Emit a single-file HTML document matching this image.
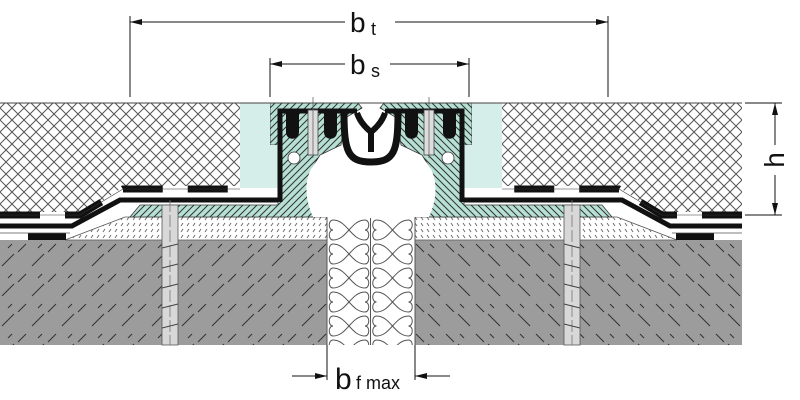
<!DOCTYPE html>
<html><head><meta charset="utf-8"><style>
html,body{margin:0;padding:0;background:#fff;}
svg{display:block;}
text{font-family:"Liberation Sans",sans-serif;fill:#111;}
</style></head><body>
<svg width="800" height="400" viewBox="0 0 800 400" xmlns="http://www.w3.org/2000/svg">
<defs>
<pattern id="xh" width="12" height="12" patternUnits="userSpaceOnUse">
<rect width="12" height="12" fill="#fff"/>
<path d="M0,0L12,12M12,0L0,12" stroke="#555" stroke-width="1"/>
</pattern>
<pattern id="conc" width="30" height="30" patternUnits="userSpaceOnUse">
<rect width="30" height="30" fill="#9c9c9c"/>
<path d="M2,26L14,14M18,12L26,4M8,8L12,4" stroke="#333" stroke-width="1"/>
</pattern>
<pattern id="mort" width="6" height="6" patternUnits="userSpaceOnUse">
<rect width="6" height="6" fill="#fff"/>
<path d="M1,4L3,1" stroke="#666" stroke-width="0.9"/>
</pattern>
<pattern id="cy" width="7" height="7" patternUnits="userSpaceOnUse">
<rect width="7" height="7" fill="#b5e0d3"/>
<path d="M0,7L7,0M-1,1L1,-1M6,8L8,6" stroke="#333" stroke-width="1"/>
</pattern>
<pattern id="ins" x="327" y="218" width="43.5" height="24" patternUnits="userSpaceOnUse">
<rect width="43.5" height="24" fill="#fff"/>
<path d="M6,2C20,2 24,22 38,22M6,22C20,22 24,2 38,2M6,2C1,2 1,12 6,12M38,12C43,12 43,22 38,22M6,12C1,12 1,22 6,22M38,2C43,2 43,12 38,12" fill="none" stroke="#555" stroke-width="1"/>
</pattern>
<g id="halfA">
 <rect x="0" y="240" width="327" height="105" fill="url(#conc)"/>
 <polygon points="65,240 125,217 327,217 327,240" fill="url(#mort)" stroke="#555" stroke-width="0.8"/>
 <polygon points="0,103 240,103 240,186 125,186 85,212 0,212" fill="url(#xh)"/>
 <polyline points="0,215 80,215 123,189 240,189" fill="none" stroke="#111" stroke-width="7" stroke-dasharray="40,25"/>
 <polyline points="0,215 80,215 123,189 240,189" fill="none" stroke="#333" stroke-width="0.6"/>
 <polyline points="0,226 72,226 120,200 280,200" fill="none" stroke="#111" stroke-width="5"/>
 <rect x="28" y="233" width="38" height="7" fill="#111"/>
 <line x1="0" y1="233" x2="70" y2="233" stroke="#555" stroke-width="0.8"/>
 <polygon points="270,103 358,103 362,108 345,118 341,145 320,155 312,168 310,195 313,205 313,217 130,217 140,205 278,205 278,145 270,145" fill="url(#cy)" stroke="#333" stroke-width="0.8"/>
 <rect x="240" y="103" width="30" height="85" fill="#d6eeea"/>
 <rect x="270" y="145" width="8" height="43" fill="#d6eeea"/>
 <rect x="162" y="205" width="16" height="140" fill="#d8d8d8" stroke="#555" stroke-width="0.8"/>
 <line x1="170" y1="200" x2="170" y2="345" stroke="#777" stroke-width="0.8" stroke-dasharray="12,3"/>
 <path d="M162,248L178,244M162,268L178,264M162,288L178,284M162,308L178,304M162,328L178,324" stroke="#444" stroke-width="1"/>
</g>
<g id="halfB">
 <path d="M280,202 L280,111 L357,111" fill="none" stroke="#111" stroke-width="5"/>
 <path d="M286,113 L299,113 L299,132 C299,141 286,141 286,132 Z M324,113 L337,113 L337,132 C337,141 324,141 324,132 Z" fill="#111"/>
 <path d="M344,112 C344,152 348,162 371,162" fill="none" stroke="#111" stroke-width="7"/>
 <path d="M371,152 L371,132 C366,128 360,122 357,113" fill="none" stroke="#111" stroke-width="6"/>
 <circle cx="294" cy="158" r="6" fill="#fff" stroke="#333" stroke-width="0.8"/>
 <rect x="308" y="110" width="10" height="45" fill="#ddd" stroke="#444" stroke-width="0.8"/>
 <line x1="313" y1="97" x2="313" y2="158" stroke="#666" stroke-width="0.8"/>
</g>
</defs>
<use href="#halfA"/>
<use href="#halfA" transform="translate(742,0) scale(-1,1)"/>
<path d="M313,217 C305,200 302,175 318,160 C330,150 345,158 371,163 C397,158 412,150 424,160 C440,175 437,200 429,217 Z" fill="#fff"/>
<rect x="327" y="218" width="88" height="127" fill="url(#ins)"/>
<line x1="327" y1="218" x2="327" y2="345" stroke="#555"/><line x1="370.5" y1="218" x2="370.5" y2="345" stroke="#555"/><line x1="415" y1="218" x2="415" y2="345" stroke="#555"/>
<use href="#halfB"/>
<use href="#halfB" transform="translate(742,0) scale(-1,1)"/>
<line x1="0" y1="103" x2="742" y2="103" stroke="#444" stroke-width="1"/>
<g stroke="#111" stroke-width="1" fill="none">
<line x1="130" y1="16" x2="130" y2="97"/><line x1="608" y1="16" x2="608" y2="97"/>
<line x1="130" y1="22" x2="345" y2="22"/><line x1="395" y1="22" x2="608" y2="22"/>
<line x1="270" y1="58" x2="270" y2="97"/><line x1="469" y1="58" x2="469" y2="97"/>
<line x1="270" y1="64" x2="345" y2="64"/><line x1="390" y1="64" x2="469" y2="64"/>
<line x1="745" y1="103" x2="782" y2="103"/><line x1="745" y1="215" x2="782" y2="215"/>
<line x1="775" y1="103" x2="775" y2="145"/><line x1="775" y1="175" x2="775" y2="215"/>
<line x1="327" y1="345" x2="327" y2="380"/><line x1="415" y1="345" x2="415" y2="380"/>
<line x1="292" y1="376" x2="327" y2="376"/><line x1="415" y1="376" x2="450" y2="376"/>
</g>
<g fill="#111">
<polygon points="130,22 142,19 142,25"/><polygon points="608,22 596,19 596,25"/>
<polygon points="270,64 282,61 282,67"/><polygon points="469,64 457,61 457,67"/>
<polygon points="775,103 772,115 778,115"/><polygon points="775,215 772,203 778,203"/>
<polygon points="327,376 315,373 315,379"/><polygon points="415,376 427,373 427,379"/>
</g>
<text x="350" y="32" font-size="28">b</text><text x="371" y="35" font-size="18">t</text>
<text x="350" y="74" font-size="28">b</text><text x="371" y="77" font-size="18">s</text>
<text x="335" y="389" font-size="30">b</text><text x="356" y="389" font-size="18">f max</text>
<text transform="translate(784,160) rotate(-90)" font-size="28" text-anchor="middle">h</text>
</svg>
</body></html>
